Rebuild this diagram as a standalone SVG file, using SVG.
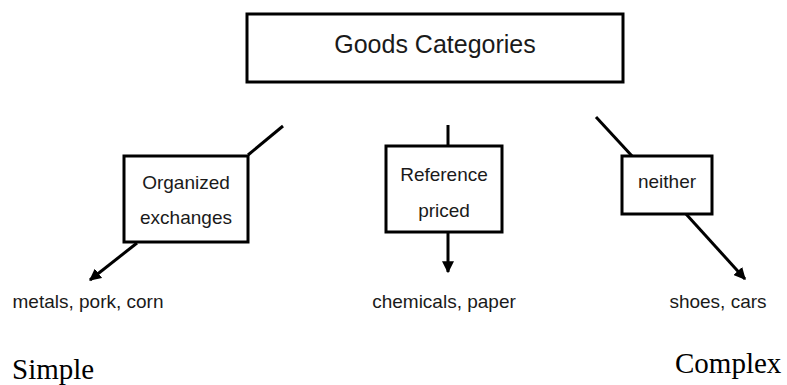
<svg xmlns="http://www.w3.org/2000/svg" width="787" height="385" viewBox="0 0 787 385">
<style>
.box{fill:#fff;stroke:#000;stroke-width:3}
.t{font-family:"Liberation Sans",Arial,sans-serif;fill:#1a1a1a;text-anchor:middle}
.c{stroke:#000;stroke-width:3;fill:none}
.s{font-family:"Liberation Serif","Times New Roman",serif;fill:#000;font-size:29px}
</style>
<defs>
<marker id="ah" viewBox="0 0 10 10" refX="9" refY="5" markerWidth="4" markerHeight="4" orient="auto" markerUnits="strokeWidth">
<path d="M0,0 L10,5 L0,10 z" fill="#000"/>
</marker>
</defs>
<rect width="787" height="385" fill="#fff"/>
<g id="connectors">
<line class="c" x1="283" y1="126" x2="248" y2="155"/>
<line class="c" x1="137" y1="243" x2="90" y2="280" marker-end="url(#ah)"/>
<line class="c" x1="448" y1="125" x2="448" y2="146"/>
<line class="c" x1="448" y1="232" x2="448" y2="272" marker-end="url(#ah)"/>
<line class="c" x1="596" y1="117" x2="632" y2="156"/>
<line class="c" x1="686" y1="214" x2="745" y2="279" marker-end="url(#ah)"/>
</g>
<g id="goods">
<rect class="box" x="247" y="14" width="376" height="68"/>
<text class="t" x="435" y="53" font-size="25">Goods Categories</text>
</g>
<g id="organized">
<rect class="box" x="124" y="156" width="124" height="86"/>
<text class="t" x="186" y="189" font-size="19">Organized</text>
<text class="t" x="186" y="224" font-size="19">exchanges</text>
</g>
<g id="reference">
<rect class="box" x="386" y="146" width="116" height="86"/>
<text class="t" x="444" y="181" font-size="19">Reference</text>
<text class="t" x="444" y="217" font-size="19">priced</text>
</g>
<g id="neither">
<rect class="box" x="622" y="156" width="90" height="58"/>
<text class="t" x="667" y="188" font-size="19">neither</text>
</g>
<g id="labels">
<text class="t" x="88" y="308" font-size="19">metals, pork, corn</text>
<text class="t" x="444" y="308" font-size="19">chemicals, paper</text>
<text class="t" x="718" y="308" font-size="19">shoes, cars</text>
<text class="s" x="12" y="379">Simple</text>
<text class="s" x="675" y="373">Complex</text>
</g>
</svg>
